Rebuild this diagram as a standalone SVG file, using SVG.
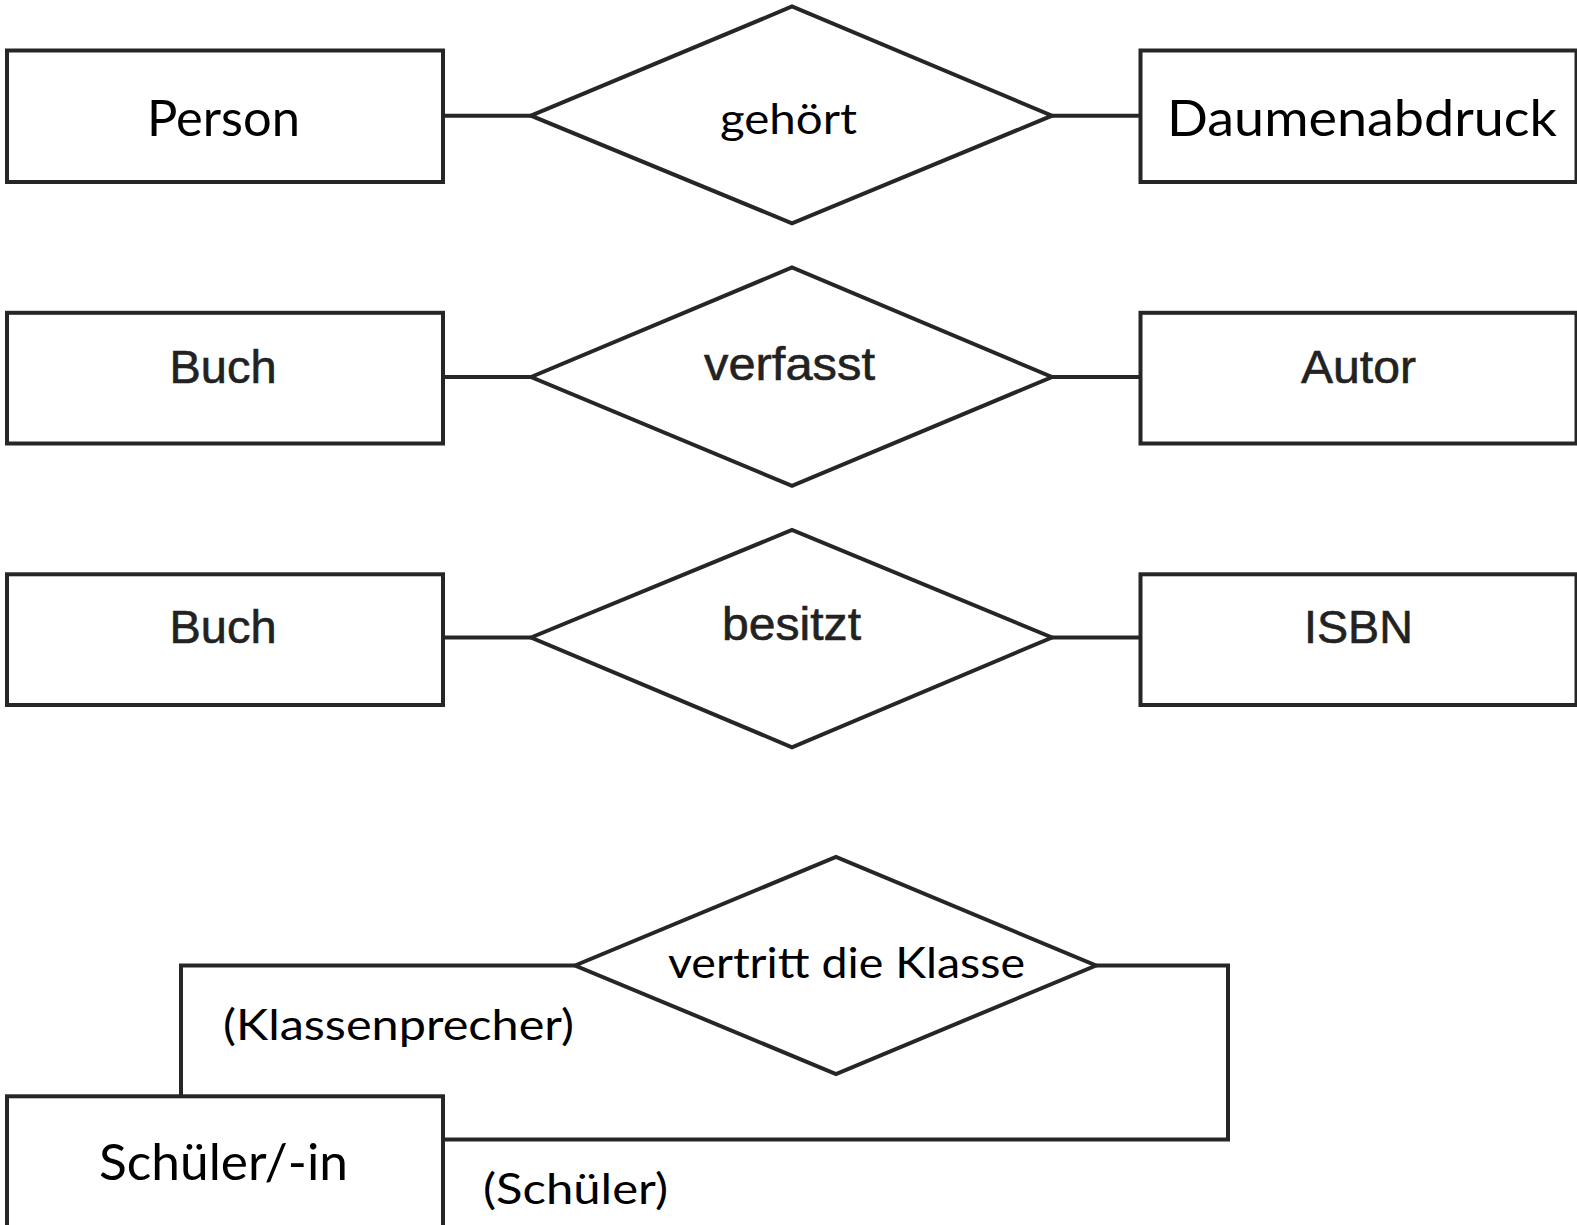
<svg xmlns="http://www.w3.org/2000/svg" width="1577" height="1225" viewBox="0 0 1577 1225">
  <style>
    .shape { fill: #ffffff; stroke: #262626; stroke-width: 4; stroke-linejoin: miter; }
    .wire { fill: none; stroke: #262626; stroke-width: 4; }
    .av { font-family: Lato, "Noto Sans", sans-serif; fill: #000; }
    .hv { font-family: "Liberation Sans", Arial, sans-serif; fill: #222; stroke: #222; stroke-width: 0.6; }
  </style>
  <rect width="1577" height="1225" fill="#ffffff"/>

  <!-- connectors -->
  <g id="connectors">
    <line class="wire" x1="443" y1="115.7" x2="531" y2="115.7"/>
    <line class="wire" x1="1052" y1="115.7" x2="1140" y2="115.7"/>
    <line class="wire" x1="443" y1="377" x2="531" y2="377"/>
    <line class="wire" x1="1052" y1="377" x2="1140" y2="377"/>
    <line class="wire" x1="443" y1="637.5" x2="531" y2="637.5"/>
    <line class="wire" x1="1052" y1="637.5" x2="1140" y2="637.5"/>
    <polyline class="wire" points="181,1096 181,965.5 575,965.5"/>
    <polyline class="wire" points="1096,965.5 1228,965.5 1228,1139.5 443,1139.5"/>
  </g>

  <!-- row 1 -->
  <g id="person">
    <rect class="shape" x="7" y="50.5" width="436" height="131.5"/>
    <text class="av" x="223.5" y="136" font-size="50" text-anchor="middle" textLength="153" lengthAdjust="spacingAndGlyphs">Person</text>
  </g>
  <g id="gehoert">
    <polygon class="shape" points="531,115.7 792,6.5 1052,115.7 792,223.3"/>
    <text class="av" x="788.5" y="134" font-size="42" text-anchor="middle" textLength="137" lengthAdjust="spacingAndGlyphs">gehört</text>
  </g>
  <g id="daumenabdruck">
    <rect class="shape" x="1140.5" y="50.5" width="436" height="131.5"/>
    <text class="av" x="1362" y="136" font-size="50" text-anchor="middle" textLength="390" lengthAdjust="spacingAndGlyphs">Daumenabdruck</text>
  </g>

  <!-- row 2 -->
  <g id="buch1">
    <rect class="shape" x="7" y="312.8" width="436" height="130.7"/>
    <text class="hv" x="223" y="383" font-size="47" text-anchor="middle" textLength="107" lengthAdjust="spacingAndGlyphs">Buch</text>
  </g>
  <g id="verfasst">
    <polygon class="shape" points="531,377 792,267.5 1052,377 792,485.8"/>
    <text class="hv" x="789.5" y="380" font-size="47" text-anchor="middle" textLength="171" lengthAdjust="spacingAndGlyphs">verfasst</text>
  </g>
  <g id="autor">
    <rect class="shape" x="1140.5" y="312.8" width="436" height="130.7"/>
    <text class="hv" x="1358.5" y="383" font-size="47" text-anchor="middle" textLength="115" lengthAdjust="spacingAndGlyphs">Autor</text>
  </g>

  <!-- row 3 -->
  <g id="buch2">
    <rect class="shape" x="7" y="574.3" width="436" height="130.7"/>
    <text class="hv" x="223" y="643" font-size="47" text-anchor="middle" textLength="107" lengthAdjust="spacingAndGlyphs">Buch</text>
  </g>
  <g id="besitzt">
    <polygon class="shape" points="531,637.5 792,530 1052,637.5 792,747.3"/>
    <text class="hv" x="791.5" y="640" font-size="47" text-anchor="middle" textLength="139" lengthAdjust="spacingAndGlyphs">besitzt</text>
  </g>
  <g id="isbn">
    <rect class="shape" x="1140.5" y="574.3" width="436" height="130.7"/>
    <text class="hv" x="1358.5" y="643" font-size="47" text-anchor="middle" textLength="109" lengthAdjust="spacingAndGlyphs">ISBN</text>
  </g>

  <!-- row 4: recursive relationship -->
  <g id="vertritt">
    <polygon class="shape" points="575,965.5 836,857 1096,965.5 836,1074"/>
    <text class="av" x="846.5" y="978" font-size="42" text-anchor="middle" textLength="357" lengthAdjust="spacingAndGlyphs">vertritt die Klasse</text>
  </g>
  <g id="schueler">
    <rect class="shape" x="7" y="1096.3" width="436" height="140"/>
    <text class="av" x="223.5" y="1180" font-size="50" text-anchor="middle" textLength="249" lengthAdjust="spacingAndGlyphs">Schüler/-in</text>
  </g>

  <!-- role labels -->
  <g id="labels">
    <text class="av" x="398.5" y="1040" font-size="42" text-anchor="middle" textLength="351" lengthAdjust="spacingAndGlyphs">(Klassenprecher)</text>
    <text class="av" x="575.5" y="1204" font-size="42" text-anchor="middle" textLength="185" lengthAdjust="spacingAndGlyphs">(Schüler)</text>
  </g>
</svg>
